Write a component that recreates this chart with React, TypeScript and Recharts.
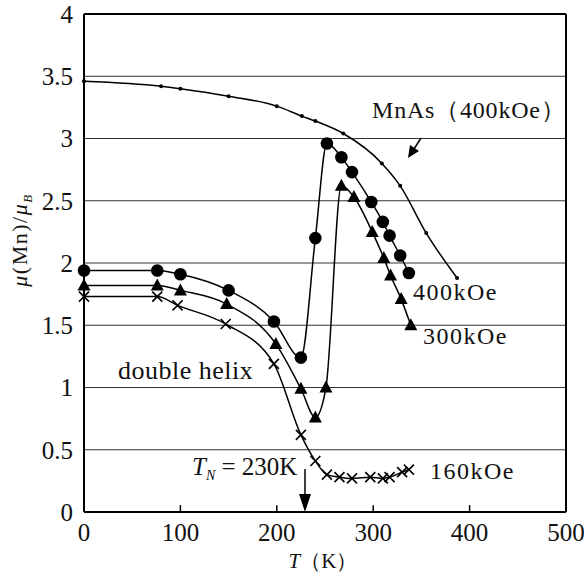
import React from 'react';
import { ComposedChart, Line, XAxis, YAxis, CartesianGrid, ReferenceLine } from 'recharts';

// temperature (K) and moment (μB) for each field
const mnAsT = [0, 80, 100, 150, 200, 226, 240, 269, 309, 328, 355, 387];
const mnAsMu = [3.46, 3.42, 3.4, 3.34, 3.26, 3.18, 3.14, 3.04, 2.8, 2.62, 2.24, 1.88];

const t400 = [0, 76, 100, 150, 197, 225, 240, 252, 267, 278, 298, 310, 317, 328, 337];
const mu400 = [1.94, 1.94, 1.91, 1.78, 1.53, 1.24, 2.2, 2.96, 2.85, 2.73, 2.49, 2.33, 2.22, 2.06, 1.92];

const t300 = [0, 76, 100, 148, 199, 225, 240, 251, 267, 280, 299, 311, 318, 329, 339];
const mu300 = [1.82, 1.82, 1.78, 1.67, 1.35, 0.99, 0.76, 1.0, 2.62, 2.53, 2.25, 2.04, 1.9, 1.71, 1.5];

const t160 = [0, 76, 97, 147, 197, 225, 240, 252, 265, 278, 297, 310, 317, 330, 337];
const mu160 = [1.73, 1.73, 1.66, 1.51, 1.19, 0.62, 0.41, 0.3, 0.28, 0.27, 0.28, 0.27, 0.28, 0.32, 0.34];

const xTicks = [0, 100, 200, 300, 400, 500];
const yTicks = [0, 0.5, 1, 1.5, 2, 2.5, 3, 3.5, 4];
const innerTicks = [100, 200, 300, 400];

const zip = (t: number[], mu: number[]) => t.map((v, i) => ({ t: v, mu: mu[i] }));

const serif = 'Liberation Serif';

const SmallDot = (p: any) => <circle key={p.index} cx={p.cx} cy={p.cy} r={2} fill="#000" />;
const CircleDot = (p: any) => <circle key={p.index} cx={p.cx} cy={p.cy} r={6.3} fill="#000" />;
const TriangleDot = (p: any) => (
  <path
    key={p.index}
    d={`M${p.cx},${p.cy - 7} L${p.cx + 6.5},${p.cy + 5} L${p.cx - 6.5},${p.cy + 5} Z`}
    fill="#000"
  />
);
const CrossDot = (p: any) => (
  <path
    key={p.index}
    d={`M${p.cx - 5},${p.cy - 5} L${p.cx + 5},${p.cy + 5} M${p.cx + 5},${p.cy - 5} L${p.cx - 5},${p.cy + 5}`}
    stroke="#000"
    strokeWidth={1.6}
    fill="none"
  />
);

export default function App() {
  const W = 584;
  const H = 578;
  return (
    <div style={{ position: 'absolute', left: 0, top: 0, width: W, height: H, background: '#fff', fontFamily: serif }}>
      <ComposedChart width={W} height={H} margin={{ top: 14, right: 18, left: 0, bottom: 0 }}>
        <CartesianGrid vertical={false} stroke="#333" strokeWidth={1} />
        <XAxis
          dataKey="t"
          type="number"
          domain={[0, 500]}
          ticks={xTicks}
          interval={0}
          height={66}
          axisLine={{ stroke: '#000', strokeWidth: 2 }}
          tickLine={false}
          tickSize={6}
          tickMargin={5}
          tick={{ fontSize: 25, fontFamily: serif, fill: '#111' }}
        />
        <YAxis
          type="number"
          domain={[0, 4]}
          ticks={yTicks}
          interval={0}
          width={84}
          axisLine={{ stroke: '#000', strokeWidth: 2 }}
          tickLine={false}
          tickSize={6}
          tickMargin={5}
          tick={{ fontSize: 25, fontFamily: serif, fill: '#111' }}
        />
        <ReferenceLine y={4} stroke="#000" strokeWidth={2} />
        <ReferenceLine x={500} stroke="#000" strokeWidth={2} />
        {innerTicks.map((v) => (
          <ReferenceLine
            key={v}
            segment={[{ x: v, y: 0 }, { x: v, y: 0.055 }]}
            stroke="#000"
            strokeWidth={1.5}
          />
        ))}
        <Line data={zip(mnAsT, mnAsMu)} dataKey="mu" type="monotone" stroke="#000" strokeWidth={1.5} dot={SmallDot} isAnimationActive={false} />
        <Line data={zip(t400, mu400)} dataKey="mu" type="monotone" stroke="#000" strokeWidth={1.5} dot={CircleDot} isAnimationActive={false} />
        <Line data={zip(t300, mu300)} dataKey="mu" type="monotone" stroke="#000" strokeWidth={1.5} dot={TriangleDot} isAnimationActive={false} />
        <Line data={zip(t160, mu160)} dataKey="mu" type="monotone" stroke="#000" strokeWidth={1.5} dot={CrossDot} isAnimationActive={false} />
      </ComposedChart>

      {/* annotations, axis titles and arrows */}
      <svg width={W} height={H} style={{ position: 'absolute', left: 0, top: 0, pointerEvents: 'none' }}>
        <g style={{ fontFamily: serif }} fill="#111">
          <text x={372} y={118} fontSize={24} letterSpacing={0.8}>
            MnAs（400kOe）
          </text>
          <text x={413} y={300} fontSize={24} letterSpacing={1.5}>
            400kOe
          </text>
          <text x={423} y={344} fontSize={24} letterSpacing={1.5}>
            300kOe
          </text>
          <text x={430} y={479} fontSize={24} letterSpacing={1.5}>
            160kOe
          </text>
          <text x={118} y={379} fontSize={26} letterSpacing={0.5}>
            double helix
          </text>
          <text x={192} y={475} fontSize={25}>
            <tspan fontStyle="italic">T</tspan>
            <tspan fontSize={14} dy={5} fontStyle="italic">N</tspan>
            <tspan dy={-5}> = 230K</tspan>
          </text>
          <text x={323} y={568} fontSize={21} textAnchor="middle">
            <tspan fontStyle="italic">T</tspan>
            <tspan>（K）</tspan>
          </text>
          <text transform="translate(27,240) rotate(-90)" fontSize={22} textAnchor="middle" letterSpacing={1.5}>
            <tspan fontStyle="italic">μ</tspan>
            <tspan>(Mn)/</tspan>
            <tspan fontStyle="italic">μ</tspan>
            <tspan fontSize={13} dy={5} fontStyle="italic">B</tspan>
          </text>
        </g>
        <g stroke="#000" strokeWidth={1.5} fill="#000">
          <line x1={421} y1={138} x2={414} y2={149} />
          <polygon points="408,158 419,151 410,145" stroke="none" />
          <line x1={305} y1={469} x2={305} y2={496} />
          <polygon points="305,512 299,494 311,494" stroke="none" />
        </g>
      </svg>
    </div>
  );
}
